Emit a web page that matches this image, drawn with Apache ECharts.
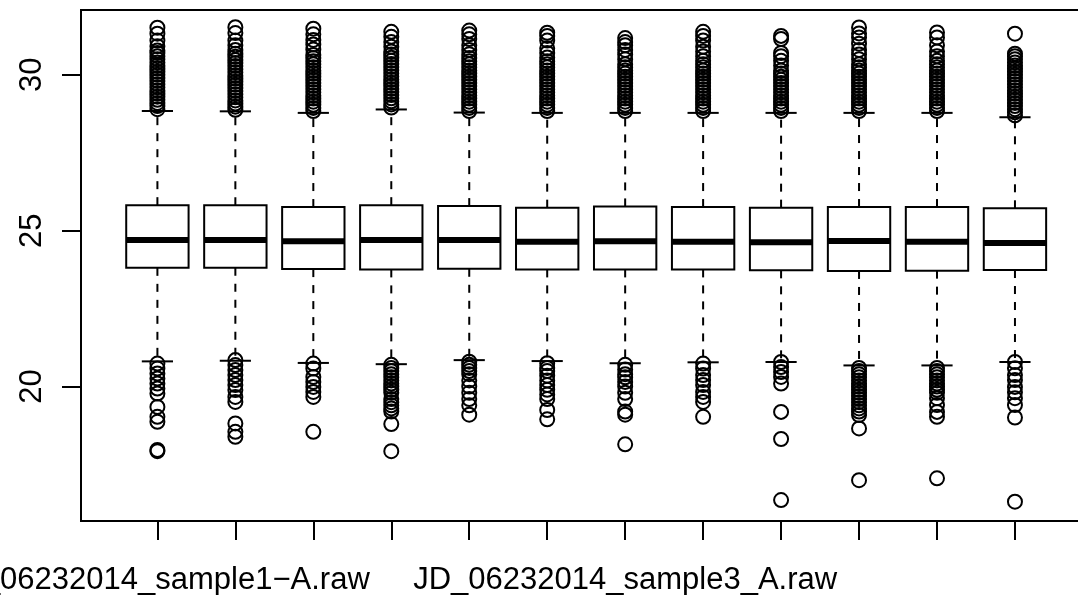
<!DOCTYPE html>
<html>
<head>
<meta charset="utf-8">
<script src="https://cdn.jsdelivr.net/npm/echarts@6/dist/echarts.min.js"></script>
<style>
html,body{margin:0;padding:0;background:#fff;}
#chart{width:1078px;height:595px;}
</style>
</head>
<body>
<div id="chart"></div>
<script>
// ---------- data ----------
const categories = [
  "JD_06232014_sample1\u2212A.raw", "JD_06232014_sample1\u2212B.raw", "JD_06232014_sample1\u2212C.raw",
  "JD_06232014_sample2\u2212A.raw", "JD_06232014_sample2\u2212B.raw", "JD_06232014_sample2\u2212C.raw",
  "JD_06232014_sample3_A.raw", "JD_06232014_sample3_B.raw", "JD_06232014_sample3_C.raw",
  "JD_06232014_sample4_A.raw", "JD_06232014_sample4_B.raw", "JD_06232014_sample4_C.raw"
];
const shownLabels = [0, 6];
const lowerWhisker = [20.81, 20.83, 20.76, 20.72, 20.85, 20.82, 20.75, 20.78, 20.79, 20.68, 20.68, 20.79];
const q1Values     = [23.81, 23.81, 23.77, 23.76, 23.78, 23.76, 23.76, 23.76, 23.73, 23.71, 23.72, 23.74];
const medianValues = [24.70, 24.70, 24.66, 24.70, 24.70, 24.65, 24.66, 24.65, 24.63, 24.67, 24.65, 24.61];
const q3Values     = [25.82, 25.82, 25.76, 25.82, 25.79, 25.74, 25.78, 25.76, 25.74, 25.76, 25.76, 25.72];
const upperWhisker = [28.84, 28.83, 28.78, 28.89, 28.79, 28.78, 28.78, 28.78, 28.78, 28.78, 28.78, 28.64];

const upperOutliers = [
  [28.9,29.0,29.1,29.2,29.3,29.4,29.5,29.6,29.7,29.8,29.9,30.0,30.1,30.2,30.3,30.4,30.5,30.6,30.7,30.78,30.92,31.1,31.32,31.51],
  [28.88,28.98,29.08,29.18,29.28,29.38,29.48,29.58,29.68,29.78,29.88,29.98,30.08,30.18,30.28,30.38,30.48,30.58,30.68,30.8,30.95,31.1,31.34,31.53],
  [28.84,28.94,29.04,29.14,29.24,29.34,29.44,29.54,29.64,29.74,29.84,29.94,30.04,30.14,30.24,30.34,30.44,30.54,30.64,30.81,30.97,31.12,31.3,31.48],
  [28.95,29.05,29.15,29.25,29.35,29.45,29.55,29.65,29.75,29.85,29.95,30.05,30.15,30.25,30.35,30.45,30.55,30.65,30.75,30.9,31.05,31.22,31.38],
  [28.84,28.94,29.04,29.14,29.24,29.34,29.44,29.54,29.64,29.74,29.84,29.94,30.04,30.14,30.24,30.34,30.44,30.54,30.66,30.8,30.95,31.15,31.3,31.42],
  [28.84,28.94,29.04,29.14,29.24,29.34,29.44,29.54,29.64,29.74,29.84,29.94,30.04,30.14,30.24,30.34,30.44,30.56,30.7,30.85,31.1,31.25,31.35],
  [28.84,28.94,29.04,29.14,29.24,29.34,29.44,29.54,29.64,29.74,29.84,29.94,30.04,30.14,30.24,30.34,30.5,30.65,30.8,30.95,31.05,31.18],
  [28.84,28.94,29.04,29.14,29.24,29.34,29.44,29.54,29.64,29.74,29.84,29.94,30.04,30.14,30.24,30.34,30.45,30.6,30.75,30.9,31.1,31.25,31.38],
  [28.84,28.94,29.04,29.14,29.24,29.34,29.44,29.54,29.64,29.74,29.84,29.94,30.04,30.14,30.3,30.45,30.6,30.7,31.15,31.25],
  [28.84,28.94,29.04,29.14,29.24,29.34,29.44,29.54,29.64,29.74,29.84,29.94,30.04,30.14,30.24,30.34,30.5,30.65,30.8,31.0,31.2,31.33,31.52],
  [28.84,28.94,29.04,29.14,29.24,29.34,29.44,29.54,29.64,29.74,29.84,29.94,30.04,30.14,30.24,30.34,30.45,30.6,30.75,30.95,31.2,31.36],
  [28.7,28.8,28.9,29.0,29.1,29.2,29.3,29.4,29.5,29.6,29.7,29.8,29.9,30.0,30.1,30.2,30.3,30.4,30.5,30.6,30.68,31.32]
];
const lowerOutliers = [
  [20.74,20.58,20.42,20.26,20.10,19.94,19.78,19.35,19.03,18.87,17.97,17.93],
  [20.85,20.69,20.53,20.37,20.21,20.05,19.89,19.67,19.51,18.82,18.55,18.39],
  [20.74,20.58,20.31,20.15,19.99,19.83,19.67,18.55],
  [20.7,20.6,20.5,20.4,20.3,20.2,20.1,20.0,19.9,19.8,19.6,19.5,19.4,19.3,19.2,18.8,17.93],
  [20.8,20.7,20.6,20.5,20.4,20.2,20.0,19.8,19.6,19.4,19.1],
  [20.75,20.6,20.5,20.35,20.2,20.05,19.9,19.75,19.6,19.25,18.95],
  [20.7,20.55,20.4,20.3,20.15,20.0,19.8,19.6,19.2,19.1,18.15],
  [20.74,20.58,20.37,20.21,20.05,19.83,19.67,19.51,19.03],
  [20.79,20.63,20.47,20.31,20.10,19.19,18.32,16.36],
  [20.6,20.5,20.4,20.3,20.2,20.1,20.0,19.9,19.8,19.7,19.6,19.5,19.4,19.3,19.2,19.09,18.66,17.0],
  [20.6,20.5,20.4,20.3,20.2,20.1,20.0,19.9,19.8,19.63,19.41,19.19,19.03,17.06],
  [20.79,20.59,20.37,20.21,19.99,19.82,19.63,19.41,19.01,16.31]
];
const yTicks = [20, 25, 30];
const yMin = 15.69, yMax = 32.08;
const xMin = 0.02, xMax = 12.98;

// ---------- build ----------
const boxData = categories.map((c, i) => [i, lowerWhisker[i], q1Values[i], medianValues[i], q3Values[i], upperWhisker[i]]);
const outData = [];
categories.forEach((c, i) => {
  upperOutliers[i].forEach(v => outData.push([i, v]));
  lowerOutliers[i].forEach(v => outData.push([i, v]));
});

const FONT = "Liberation Sans, Arial, Helvetica, sans-serif";
const frameLeft = 81, frameTop = 10, frameH = 511;
const unitPx = 77.96;
const frameW = unitPx * (xMax - xMin);
const catLeft = frameLeft + unitPx * (0.5 - xMin);

const chart = echarts.init(document.getElementById('chart'), null, {renderer: 'canvas'});
chart.setOption({
  animation: false,
  backgroundColor: '#fff',
  grid: [
    {left: frameLeft, top: frameTop, width: frameW, height: frameH, show: true,
     borderColor: '#000', borderWidth: 2, backgroundColor: 'transparent',
     containLabel: false, outerBoundsMode: 'none'},
    {left: catLeft, top: frameTop, width: unitPx * categories.length, height: frameH,
     containLabel: false, outerBoundsMode: 'none'}
  ],
  xAxis: [
    {type: 'value', gridIndex: 0, min: xMin, max: xMax, show: false},
    {type: 'category', gridIndex: 1, data: categories, boundaryGap: true,
     axisLine: {show: false},
     axisTick: {show: true, alignWithLabel: true, length: 19, interval: 0,
                lineStyle: {color: '#000', width: 2}},
     axisLabel: {show: true, margin: 44, color: '#000', fontFamily: FONT, fontSize: 31,
                 hideOverlap: false,
                 interval: (idx) => shownLabels.indexOf(idx) >= 0},
     splitLine: {show: false}}
  ],
  yAxis: [
    {type: 'value', gridIndex: 0, min: yMin, max: yMax,
     axisLine: {show: false},
     axisTick: {show: true, length: 19, customValues: yTicks, lineStyle: {color: '#000', width: 2}},
     axisLabel: {show: true, rotate: 90, margin: 33, color: '#000', fontFamily: FONT, fontSize: 31,
                 customValues: yTicks},
     splitLine: {show: false}},
    {type: 'value', gridIndex: 1, min: yMin, max: yMax, show: false}
  ],
  series: [
    {
      type: 'custom', xAxisIndex: 1, yAxisIndex: 1, data: boxData, clip: false,
      renderItem: function (params, api) {
        const i = api.value(0);
        const lo = api.coord([i, api.value(1)]);
        const q1 = api.coord([i, api.value(2)]);
        const md = api.coord([i, api.value(3)]);
        const q3 = api.coord([i, api.value(4)]);
        const hi = api.coord([i, api.value(5)]);
        const band = api.size([1, 0])[0];
        const bw = band * 0.8, cw = bw * 0.5, cx = q1[0];
        const dash = {stroke: '#000', lineWidth: 2, lineDash: [8, 8], fill: null};
        const solid = {stroke: '#000', lineWidth: 2, fill: null};
        return {type: 'group', children: [
          {type: 'line', shape: {x1: cx, y1: q3[1], x2: cx, y2: hi[1]}, style: dash},
          {type: 'line', shape: {x1: cx, y1: q1[1], x2: cx, y2: lo[1]}, style: dash},
          {type: 'line', shape: {x1: cx - cw / 2, y1: hi[1], x2: cx + cw / 2, y2: hi[1]}, style: solid},
          {type: 'line', shape: {x1: cx - cw / 2, y1: lo[1], x2: cx + cw / 2, y2: lo[1]}, style: solid},
          {type: 'rect', shape: {x: cx - bw / 2, y: q3[1], width: bw, height: q1[1] - q3[1]},
           style: {fill: '#fff', stroke: '#000', lineWidth: 2}},
          {type: 'line', shape: {x1: cx - bw / 2, y1: md[1], x2: cx + bw / 2, y2: md[1]},
           style: {stroke: '#000', lineWidth: 6}}
        ]};
      }
    },
    {
      type: 'scatter', xAxisIndex: 1, yAxisIndex: 1, data: outData,
      symbol: 'circle', symbolSize: 14, clip: false,
      itemStyle: {color: 'rgba(0,0,0,0)', borderColor: '#000', borderWidth: 2, opacity: 1},
      emphasis: {disabled: true}
    }
  ]
});
</script>
</body>
</html>
